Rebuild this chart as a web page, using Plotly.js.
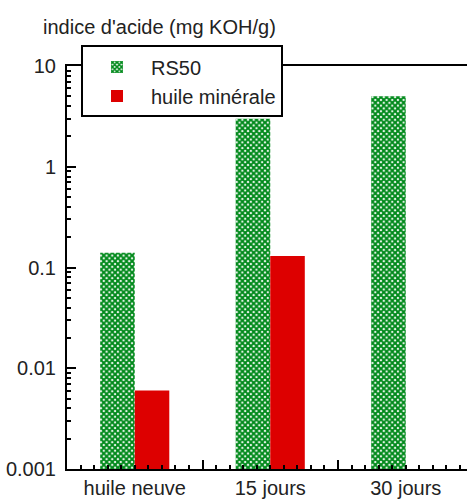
<!DOCTYPE html>
<html>
<head>
<meta charset="utf-8">
<script src="https://cdn.plot.ly/plotly-3.0.1.min.js"></script>
<style>html,body{margin:0;padding:0;background:#fff;}#chart{width:467px;height:500px;}</style>
</head>
<body>
<div id="chart"></div>
<script>
const categories = ["huile neuve", "15 jours", "30 jours"];
const rs50 = [0.14, 3.0, 5.0];
const huileMinerale = [0.006, 0.13, null];
const seriesNames = ["RS50", "huile minérale"];
const yTickVals = [0.001, 0.01, 0.1, 1, 10];
const yTickText = ["0.001", "0.01", "0.1", "1", "10"];
const xBoundaries = [-0.5, 0.5, 1.5, 2.5];

const xIdx = categories.map((_, i) => i);
const FONT = "Liberation Sans, Arial, sans-serif";

const traces = [
  {
    type: "bar", name: seriesNames[0], x: xIdx, y: rs50,
    marker: {
      color: "#ffffff",
      line: {width: 0},
      pattern: {shape: "x", fgcolor: "#00891a", bgcolor: "#ffffff", size: 4, solidity: 0.75}
    }
  },
  {
    type: "bar", name: seriesNames[1], x: xIdx, y: huileMinerale,
    marker: {color: "#dd0000", line: {width: 0}}
  }
];

const layout = {
  width: 467, height: 500,
  margin: {l: 67, r: 0, t: 66, b: 31},
  paper_bgcolor: "#fff", plot_bgcolor: "#fff",
  font: {family: FONT, size: 20, color: "#222"},
  barmode: "group", bargap: 0.49, bargroupgap: 0,
  showlegend: true,
  title: {
    text: "indice d'acide (mg KOH/g)",
    font: {family: FONT, size: 20, color: "#222"},
    xref: "container", yref: "container",
    x: 43 / 467, xanchor: "left",
    y: 1 - 27 / 500, yanchor: "middle"
  },
  legend: {
    x: 0.035, xanchor: "left", y: 1.051, yanchor: "top",
    bgcolor: "#fff", bordercolor: "#000", borderwidth: 2,
    font: {family: FONT, size: 20, color: "#222"},
    tracegroupgap: 0, itemwidth: 58
  },
  xaxis: {
    type: "linear", range: [-0.5, 2.452], fixedrange: true,
    showgrid: false, zeroline: false,
    showline: true, linecolor: "#000", linewidth: 2, mirror: true,
    tickmode: "array", tickvals: xBoundaries, showticklabels: false,
    ticks: "inside", ticklen: 9, tickwidth: 2, tickcolor: "#000",
    minor: {tick0: -0.5, dtick: 0.1, ticks: "inside", ticklen: 4, tickwidth: 2, tickcolor: "#000", showgrid: false}
  },
  xaxis2: {
    type: "linear", range: [-0.5, 2.452], overlaying: "x", anchor: "y", side: "bottom",
    showgrid: false, zeroline: false, showline: false,
    tickmode: "array", tickvals: xIdx, ticktext: categories,
    ticks: "", ticklabelstandoff: 5,
    tickfont: {family: FONT, size: 20, color: "#222"}
  },
  yaxis: {
    type: "log", range: [-3, 1], fixedrange: true,
    showgrid: false, zeroline: false,
    showline: true, linecolor: "#000", linewidth: 2, mirror: false,
    tickmode: "array", tickvals: yTickVals, ticktext: yTickText,
    ticks: "inside", ticklen: 9, tickwidth: 2, tickcolor: "#000",
    ticklabelstandoff: 5,
    tickfont: {family: FONT, size: 20, color: "#222"},
    minor: {dtick: "D1", ticks: "inside", ticklen: 4, tickwidth: 2, tickcolor: "#000", showgrid: false}
  }
};

// invisible trace that carries the category labels axis
traces.push({type: "scatter", x: xIdx, y: rs50, xaxis: "x2", yaxis: "y", mode: "none", showlegend: false, hoverinfo: "skip"});

Plotly.newPlot("chart", traces, layout, {staticPlot: true, displayModeBar: false});
</script>
</body>
</html>
